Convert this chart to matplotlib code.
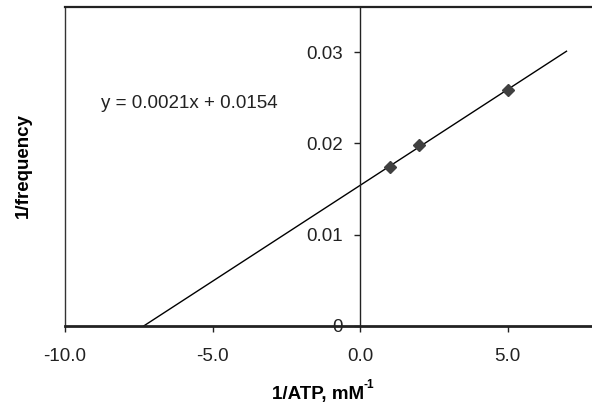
import numpy as np
import matplotlib
matplotlib.use("Agg")
import matplotlib.pyplot as plt

plt.rcParams['font.family'] = ['Liberation Sans', 'DejaVu Sans']

# data (Lineweaver-Burk)
atp_inv = [1.0, 2.0, 5.0]
freq_inv = [0.0174, 0.0198, 0.0258]
slope = 0.0021
intercept = 0.0154
line_end = 7.0

xticks = [-10, -5, 0, 5, 10]
xticklabels = ['-10.0', '-5.0', '0.0', '5.0', '']
yticks = [0, 0.01, 0.02, 0.03]
yticklabels = ['0', '0.01', '0.02', '0.03']

fig = plt.figure(figsize=(5.92, 4.08), dpi=100)
ax = fig.add_axes([65 / 592, 82 / 408, 590 / 592, 319.5 / 408])
ax.set_xlim(-10, 10)
ax.set_ylim(0, 0.035)

dark = '#222222'
ax.spines['left'].set_position(('data', 0))
ax.spines['left'].set_linewidth(1.0)
ax.spines['left'].set_color(dark)
ax.spines['bottom'].set_linewidth(2.0)
ax.spines['bottom'].set_color(dark)
ax.spines['top'].set_linewidth(1.6)
ax.spines['top'].set_color(dark)
ax.spines['right'].set_visible(False)
ax.axvline(-10, color='#333333', lw=1.0, clip_on=False)

ax.set_xticks(xticks)
ax.set_xticklabels(xticklabels)
ax.set_yticks(yticks)
ax.set_yticklabels(yticklabels)
ax.tick_params(axis='x', direction='out', length=4.5, width=1.0, pad=11.5,
               labelsize=13.5, colors=dark)
ax.tick_params(axis='y', direction='out', length=4.5, width=1.0, pad=8,
               labelsize=13.5, colors=dark)

# trend line
x0 = -intercept / slope
xl = np.array([x0, line_end])
ax.plot(xl, slope * xl + intercept, color='black', lw=1.0)

ax.plot(atp_inv, freq_inv, linestyle='none', marker='D', markersize=6.5,
        color='#404040', markeredgecolor='#404040')

ax.text(-5.8, 0.0244, 'y = 0.0021x + 0.0154', ha='center', va='center',
        fontsize=13.5, color=dark)

fig.text(272 / 592, 1 - 395 / 408, '1/ATP, mM', ha='left',
         va='center', fontsize=13.5, fontweight='bold')
fig.text(363.5 / 592, 1 - 385 / 408, '-1', ha='left', va='center',
         fontsize=8.5, fontweight='bold')
fig.text(23 / 592, 1 - 166 / 408, '1/frequency', ha='center', va='center',
         rotation=90, fontsize=13.5, fontweight='bold')

fig.savefig('out.png', dpi=100)
